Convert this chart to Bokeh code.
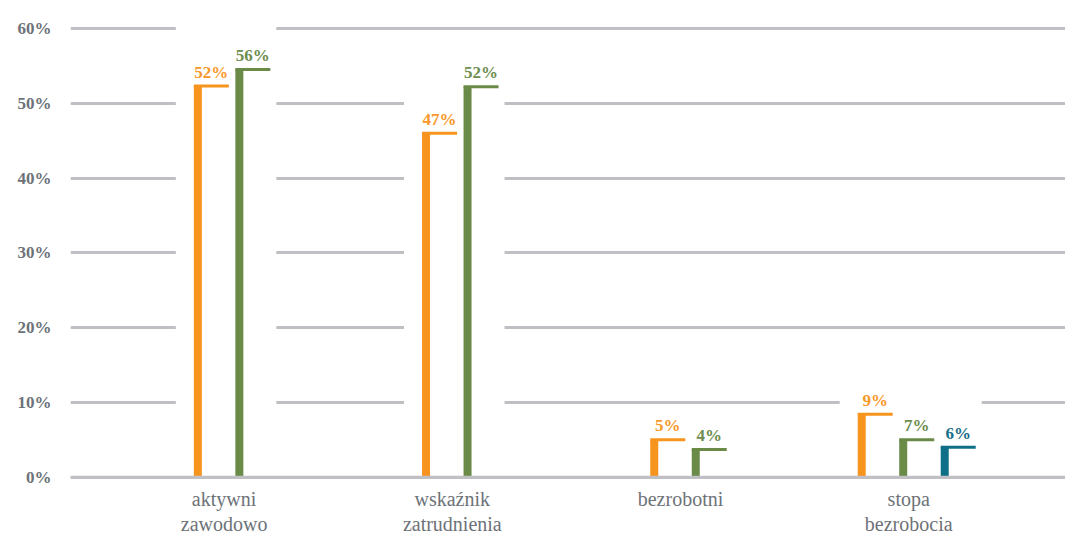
from bokeh.plotting import figure
from bokeh.models import ColumnDataSource, FixedTicker, Span
from bokeh.core.properties import value
from bokeh.embed import file_html
from bokeh.resources import INLINE

# ---- data ----
categories = ["aktywni\nzawodowo", "wskaźnik\nzatrudnienia", "bezrobotni", "stopa\nbezrobocia"]
values_orange = [52.3, 46.0, 5.0, 8.4]
values_green = [54.5, 52.2, 3.7, 5.0]
values_blue = [None, None, None, 4.0]
labels_orange = ["52%", "47%", "5%", "9%"]
labels_green = ["56%", "52%", "4%", "7%"]
labels_blue = [None, None, None, "6%"]
y_ticks = [0, 10, 20, 30, 40, 50, 60]

# ---- styles ----
bar_colors = ["#F7941E", "#6A8A48", "#0F6F88"]
label_colors = ["#F8982A", "#6C8D4D", "#1A6F89"]
grid_color = "#BFBFC4"
axis_text_color = "#6D7278"
serif = "Liberation Serif"

PX = 228.2   # screen px per x unit
slot = 41.5 / PX
vwidth = 8 / PX
hlen = 35 / PX
shift = 8 / PX

p = figure(width=1065, height=534, x_range=(-0.673, 3.687), y_range=(-7.4, 62),
           output_backend="svg", toolbar_location=None, x_axis_location=None,
           min_border_left=70, min_border_right=0, min_border_top=13, min_border_bottom=2)
p.outline_line_color = None
p.background_fill_color = "white"
p.border_fill_color = "white"
p.xgrid.visible = False
p.ygrid.grid_line_color = grid_color
p.ygrid.grid_line_width = 3

p.yaxis.ticker = FixedTicker(ticks=y_ticks)
p.yaxis.major_label_overrides = {t: f"{t}%" for t in y_ticks}
p.yaxis.axis_line_color = None
p.yaxis.major_tick_line_color = None
p.yaxis.minor_tick_line_color = None
p.yaxis.major_tick_out = 0
p.yaxis.major_tick_in = 0
p.yaxis.major_label_standoff = 19
p.yaxis.major_label_text_font = serif
p.yaxis.major_label_text_font_style = "bold"
p.yaxis.major_label_text_font_size = "17px"
p.yaxis.major_label_text_color = axis_text_color

series_vals = [values_orange, values_green, values_blue]
series_lbls = [labels_orange, labels_green, labels_blue]

bars = dict(x=[], top=[], x0=[], x1=[], color=[], lx=[], label=[], lcolor=[])
masks = dict(left=[], right=[], top=[])
for i, cat in enumerate(categories):
    present = [s for s in range(3) if series_vals[s][i] is not None]
    n = len(present)
    span = (n - 1) * slot + hlen
    first = i + shift - span / 2
    for k, s in enumerate(present):
        left = first + k * slot
        v = series_vals[s][i]
        bars["x"].append(left + vwidth / 2)
        bars["top"].append(v)
        bars["x0"].append(left)
        bars["x1"].append(left + hlen)
        bars["color"].append(bar_colors[s])
        bars["lx"].append(left + hlen / 2)
        bars["label"].append(series_lbls[s][i])
        bars["lcolor"].append(label_colors[s])
    max_lbl = max(float(series_lbls[s][i].rstrip("%")) for s in present)
    masks["left"].append(first - 18 / PX)
    masks["right"].append(first + span + 6 / PX)
    masks["top"].append(max_lbl + 4.5)

msrc = ColumnDataSource(masks)
p.quad(left="left", right="right", bottom=0, top="top", source=msrc,
       fill_color="white", line_color=None)

src = ColumnDataSource(bars)
p.vbar(x="x", top="top", bottom=0, width=vwidth, source=src,
       fill_color="color", line_color=None)
p.segment(x0="x0", y0="top", x1="x1", y1="top", source=src,
          line_color="color", line_width=3, line_cap="butt")
p.text(x="lx", y="top", text="label", source=src, text_color="lcolor",
       text_font=value(serif), text_font_style="bold", text_font_size="17px",
       text_align="center", text_baseline="alphabetic", y_offset=-14)

p.add_layout(Span(location=0, dimension="width", line_color=grid_color, line_width=3))

csrc = ColumnDataSource(dict(x=list(range(len(categories))), y=[0] * len(categories), text=categories))
p.text(x="x", y="y", text="text", source=csrc, text_color=axis_text_color,
       text_font=value(serif), text_font_size="20px", text_align="center",
       text_baseline="top", text_line_height=1.15, y_offset=11)

open("out.html", "w").write(file_html(p, INLINE))
